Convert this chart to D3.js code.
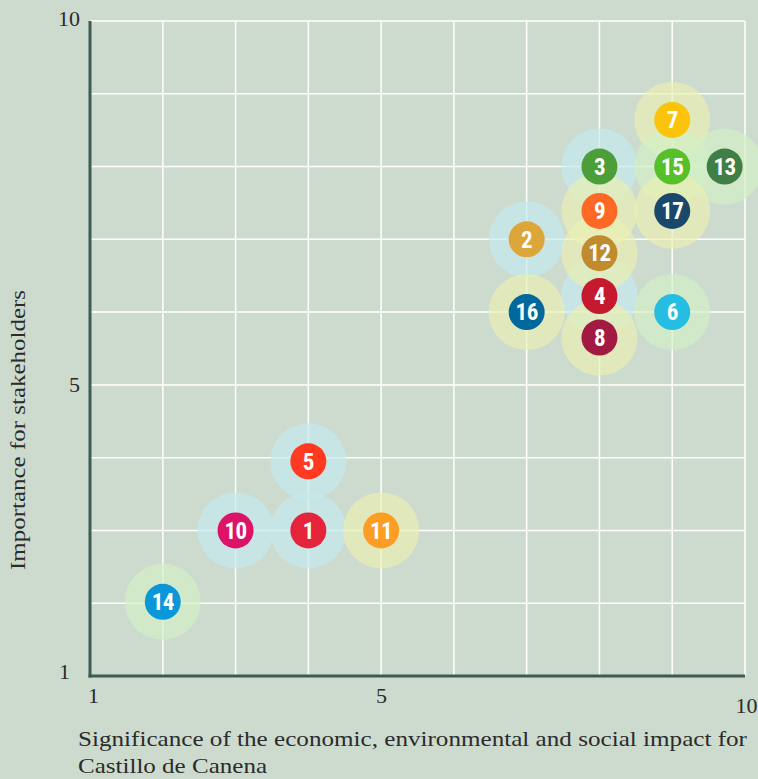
<!DOCTYPE html>
<html><head><meta charset="utf-8">
<script src="https://cdn.jsdelivr.net/npm/d3@7"></script>
<style>
html,body{margin:0;padding:0;background:#cddbcf;}
svg{display:block;}
</style></head>
<body>
<script>
const ids    = [1,2,3,4,5,6,7,8,9,10,11,12,13,14,15,16,17];
const xVals  = [4,7,8,8,4,9,9,8,8,3,5,8,9.72,2,9,7,9];
const yVals  = [3,7,8,6.22,3.95,6,8.64,5.65,7.39,3,3,6.81,8,2.02,8,6,7.39];
const dotColors = ["#e5243b","#dda63a","#4c9f38","#c5192d","#ff3a21","#26bde2","#fcc30b","#a21942","#fd6925","#dd1367","#fd9d24","#bf8b2e","#3f7e44","#0a97d9","#56c02b","#00689d","#19486a"];
const haloKinds = ["blue","blue","blue","blue","blue","green","yellow","yellow","yellow","blue","yellow","yellow","green","green","green","yellow","yellow"];
const haloColors = {blue:"#c4eaee", yellow:"#eaf0b4", green:"#d3efc4"};
const xTicks = [1,5,10];
const yTicks = [1,5,10];
const gridVals = [1,2,3,4,5,6,7,8,9,10];
const xTitle = ["Significance of the economic, environmental and social impact for","Castillo de Canena"];
const yTitle = "Importance for stakeholders";

const W=758,H=779;
const serif="'Liberation Serif','DejaVu Serif',serif";
const svg=d3.select("body").append("svg").attr("width",W).attr("height",H);
svg.append("rect").attr("width",W).attr("height",H).attr("fill","#cddbcf");

const x=d3.scaleLinear().domain([1,10]).range([90,745]);
const y=d3.scaleLinear().domain([1,10]).range([676,21]);

const grid=svg.append("g");
grid.selectAll(".v").data(gridVals.slice(1)).join("line")
  .attr("x1",d=>x(d)).attr("x2",d=>x(d)).attr("y1",y(10)).attr("y2",y(1))
  .attr("stroke","#ffffff").attr("stroke-width",1.5);
grid.selectAll(".h").data(gridVals.slice(1)).join("line")
  .attr("x1",x(1)).attr("x2",x(10)).attr("y1",d=>y(d)).attr("y2",d=>y(d))
  .attr("stroke","#ffffff").attr("stroke-width",1.5);

const data=ids.map((id,i)=>({id,x:xVals[i],y:yVals[i],c:dotColors[i],h:haloColors[haloKinds[i]]}));

svg.append("g").selectAll("circle").data(data).join("circle")
  .attr("cx",d=>x(d.x)).attr("cy",d=>y(d.y)).attr("r",38)
  .attr("fill",d=>d.h).attr("fill-opacity",0.7);

const dots=svg.append("g").selectAll("g").data(data).join("g")
  .attr("transform",d=>`translate(${x(d.x)},${y(d.y)})`);
dots.append("circle").attr("r",18).attr("fill",d=>d.c);
dots.append("text").text(d=>d.id)
  .attr("text-anchor","middle").attr("dy","0.36em")
  .attr("fill","#ffffff")
  .style("font-family","'Liberation Sans Narrow','Roboto Condensed','DejaVu Sans Condensed',sans-serif")
  .style("font-weight","bold").style("font-size","23px")
  .style("letter-spacing","-0.5px");

// axes
const xAxis=svg.append("g").attr("transform",`translate(0,${y(1)})`)
  .call(d3.axisBottom(x).tickValues(xTicks).tickSize(0).tickFormat(d3.format("d")));
xAxis.select(".domain").remove();
xAxis.selectAll("text")
  .style("font-family",serif).style("font-size","22px").attr("fill","#2b2b2b")
  .attr("dy",null).attr("y",d=>d===10?37:27)
  .attr("dx",d=>d===1?3:(d===10?1:0));
const yAxis=svg.append("g").attr("transform",`translate(${x(1)},0)`)
  .call(d3.axisLeft(y).tickValues(yTicks).tickSize(0).tickFormat(d3.format("d")));
yAxis.select(".domain").remove();
yAxis.selectAll("text")
  .style("font-family",serif).style("font-size","22px").attr("fill","#2b2b2b")
  .attr("x",d=>d===1?-20:-10).attr("dy",d=>d===10?"0.2em":(d===1?"0.1em":"0.32em"));

svg.append("line").attr("x1",x(1)).attr("x2",x(1)).attr("y1",y(10)).attr("y2",y(1)+1.5)
  .attr("stroke","#3f5a55").attr("stroke-width",3);
svg.append("line").attr("x1",x(1)-1.5).attr("x2",x(10)).attr("y1",y(1)).attr("y2",y(1))
  .attr("stroke","#3f5a55").attr("stroke-width",3);

const titleLens=[669,189];
svg.append("g").selectAll("text").data(xTitle).join("text")
  .attr("x",78).attr("y",(d,i)=>746+i*27).text(d=>d)
  .attr("textLength",(d,i)=>titleLens[i]).attr("lengthAdjust","spacingAndGlyphs")
  .style("font-family",serif).style("font-size","22px").attr("fill","#2b2b2b");
svg.append("text").attr("transform","translate(25,430) rotate(-90)")
  .attr("text-anchor","middle").text(yTitle)
  .attr("textLength",280).attr("lengthAdjust","spacingAndGlyphs")
  .style("font-family",serif).style("font-size","22px").attr("fill","#2b2b2b");
</script>
</body></html>
